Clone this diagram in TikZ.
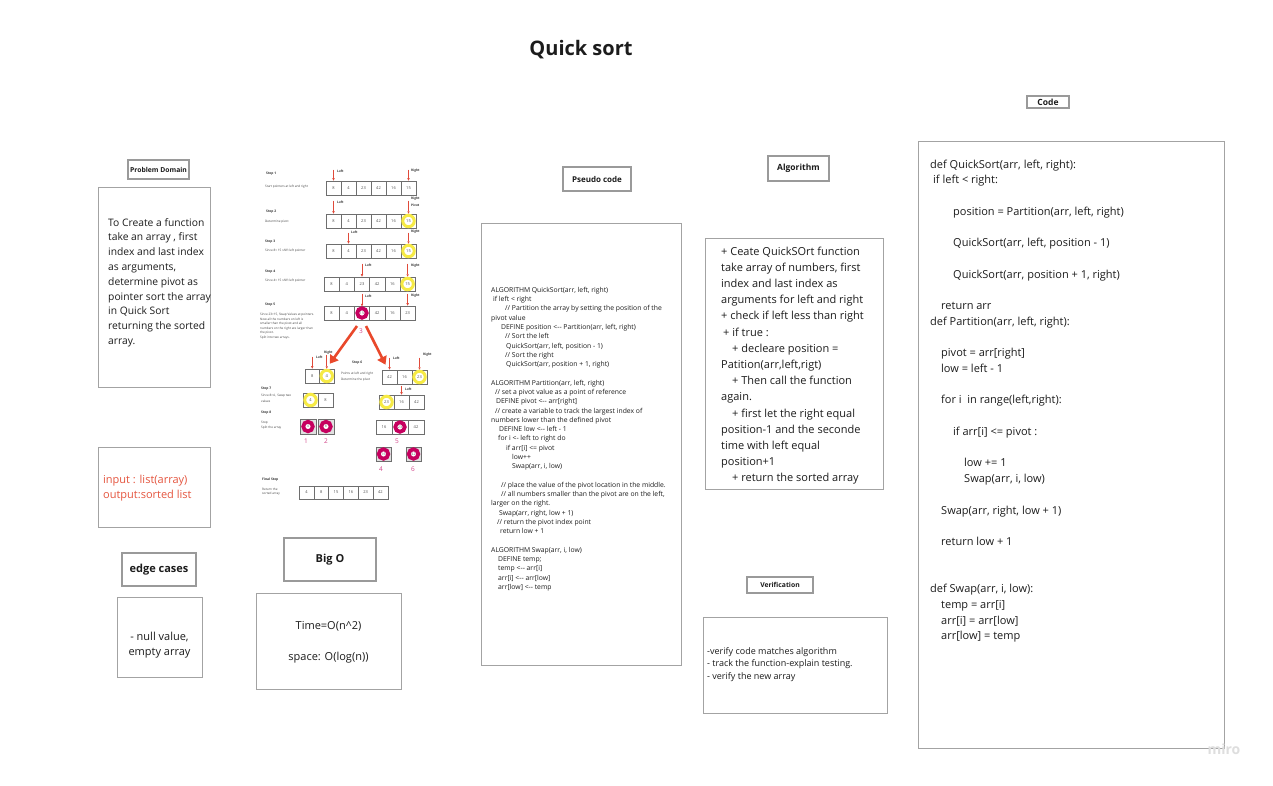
\documentclass[tikz,border=0pt]{standalone}
\usepackage{fontspec}
\setmainfont{Open Sans}
\usetikzlibrary{arrows.meta}
\definecolor{boxgray}{HTML}{A3A3A3}
\definecolor{lblgray}{HTML}{9A9A9A}
\definecolor{txt}{HTML}{1C1C1C}
\definecolor{ioRed}{HTML}{E5553F}
\definecolor{ptrRed}{HTML}{E04A3A}
\definecolor{bigRed}{HTML}{E9482B}
\definecolor{ylw}{HTML}{F6EA45}
\definecolor{mag}{HTML}{C6005F}
\definecolor{magtxt}{HTML}{D2468A}
\definecolor{cellgray}{HTML}{6E6E6E}
\definecolor{miroGray}{HTML}{DEDEDE}
\newcounter{qsln}
\def\qsStart#1#2#3#4#5{\setcounter{qsln}{0}\def\qsX{#1}\def\qsY{#2}\def\qsS{#3}\def\qsN{#4}\def\qsF{#5}}
\def\qsLine#1#2{\stepcounter{qsln}\node[anchor=base west, inner sep=0, font=\qsF, text=txt] (\qsN\arabic{qsln}) at ({\qsX+#1},{\qsY+(\arabic{qsln}-1)*\qsS}) {#2};}
\def\qsSkip{\stepcounter{qsln}}
\def\qsBox#1#2#3#4#5#6#7{\node[#2, minimum width={#5-#3}, minimum height={#6-#4}] (#1) at ({(#3+#5)/2},{(#4+#6)/2}) {#7};}
\def\qsCells#1#2#3#4#5#6{\foreach \v [count=\i] in {#6} {\node[cell, minimum width=#4pt, minimum height=#5pt] (#1-\i) at ({#2+(\i-0.5)*#4},{#3+#5/2}) {\v};}}
\begin{document}
\begin{tikzpicture}[x=1pt,y=-1pt,
  box/.style={draw=boxgray, line width=0.9pt, inner sep=0},
  lbl/.style={draw=lblgray, line width=1.3pt, inner sep=0, text=txt},
  cell/.style={draw=cellgray, line width=0.6pt, inner sep=0, font=\fontsize{4}{4}\selectfont, text=black!70},
  yring/.style={circle, draw=ylw, line width=3pt, fill=white, minimum size=11.5pt, inner sep=0, font=\fontsize{4}{4}\selectfont, text=black!70},
  mring/.style={circle, draw=mag, line width=3.8pt, fill=white, minimum size=9.5pt, inner sep=0, font=\fontsize{3.6}{4}\selectfont, text=black!60},
  ptr/.style={draw=ptrRed, line width=0.55pt, -{Triangle[length=2.5pt,width=2.2pt]}},
  plbl/.style={font=\bfseries\fontsize{3.2}{3.5}\selectfont, inner sep=0, anchor=west, text=black!80},
  stp/.style={font=\bfseries\fontsize{3.3}{4}\selectfont, inner sep=0, anchor=west, text=black!80},
  stxt/.style={font=\fontsize{3.1}{4.6}\selectfont, inner sep=0, anchor=west, text=black!75},
  mnum/.style={text=magtxt, font=\fontsize{6.5}{7}\selectfont, inner sep=0},
  bigarr/.style={draw=bigRed, line width=2.6pt, -{Triangle[length=8pt,width=10pt]}}
]
\useasboundingbox (0,0) rectangle (1273,785);
\fill[white] (0,0) rectangle (1273,785);

\node[font=\bfseries\fontsize{20}{24}\selectfont, text=txt] (title) at (581,50) {Quick sort};

% ---------- boxes ----------
\qsBox{pdLbl}{lbl, font=\bfseries\fontsize{6.8}{8}\selectfont}{128}{160}{189}{179}{Problem Domain}
\qsBox{pdBox}{box}{98}{187}{210}{387}{}
\qsBox{ioBox}{box}{98}{447}{210}{527}{}
\qsBox{ecLbl}{lbl, font=\bfseries\fontsize{11}{13}\selectfont}{122}{553}{196}{586}{edge cases}
\qsBox{ecBox}{box}{117}{597}{202}{677}{}
\qsBox{boLbl}{lbl, font=\bfseries\fontsize{11}{13}\selectfont}{284}{538}{376}{581}{Big O}
\qsBox{boBox}{box}{256}{593}{401}{689}{}
\qsBox{psLbl}{lbl, font=\bfseries\fontsize{8}{9}\selectfont}{563}{167}{631}{191}{Pseudo code}
\qsBox{psBox}{box}{481}{223}{681}{665}{}
\qsBox{alLbl}{lbl, font=\bfseries\fontsize{8.5}{10}\selectfont}{768}{156}{829}{181}{Algorithm}
\qsBox{alBox}{box}{705}{238}{883}{489}{}
\qsBox{vfLbl}{lbl, font=\bfseries\fontsize{6.8}{8}\selectfont}{747}{577}{813}{593}{Verification}
\qsBox{vfBox}{box}{703}{617}{887}{713}{}
\qsBox{cdLbl}{lbl, font=\bfseries\fontsize{8.5}{10}\selectfont}{1027}{96}{1069}{108}{Code}
\qsBox{cdBox}{box}{918}{141}{1224}{748}{}

% ---------- problem domain ----------
\qsStart{108}{226}{14.8}{pd}{\fontsize{10.3}{13}\selectfont}
\qsLine{0}{To Create a function}
\qsLine{0}{take an array , first}
\qsLine{0}{index and last index}
\qsLine{0}{as arguments,}
\qsLine{0}{determine pivot as}
\qsLine{0}{pointer sort the array}
\qsLine{0}{in Quick Sort}
\qsLine{0}{returning the sorted}
\qsLine{0}{array.}

% ---------- input / output ----------
\node[anchor=base west, inner sep=0, font=\fontsize{11}{13}\selectfont, text=ioRed] (io1) at (103,483) {input : list(array)};
\node[anchor=base west, inner sep=0, font=\fontsize{11}{13}\selectfont, text=ioRed] (io2) at (103,498) {output:sorted list};

% ---------- edge cases ----------
\node[anchor=base, inner sep=0, font=\fontsize{11}{13}\selectfont, text=txt] (ec1) at (159.5,640) {- null value,};
\node[anchor=base, inner sep=0, font=\fontsize{11}{13}\selectfont, text=txt] (ec2) at (159.5,655) {empty array};

% ---------- big O ----------
\node[anchor=base, inner sep=0, font=\fontsize{11}{13}\selectfont, text=txt] (bo1) at (328.5,629) {Time=O(n\textasciicircum 2)};
\node[anchor=base, inner sep=0, font=\fontsize{11}{13}\selectfont, text=txt] (bo2) at (328.5,660) {space: O(log(n))};

% ---------- pseudo code ----------
\qsStart{491}{292.4}{9.28}{ps}{\fontsize{6.8}{8}\selectfont}
\qsLine{0}{ALGORITHM QuickSort(arr, left, right)}
\qsLine{2}{if left < right}
\qsLine{14}{// Partition the array by setting the position of the}
\qsLine{0}{pivot value}
\qsLine{10}{DEFINE position <-{}- Partition(arr, left, right)}
\qsLine{14}{// Sort the left}
\qsLine{15}{QuickSort(arr, left, position - 1)}
\qsLine{14}{// Sort the right}
\qsLine{15}{QuickSort(arr, position + 1, right)}
\qsSkip
\qsLine{0}{ALGORITHM Partition(arr, left, right)}
\qsLine{4}{// set a pivot value as a point of reference}
\qsLine{5}{DEFINE pivot <-{}- arr[right]}
\qsLine{4}{// create a variable to track the largest index of}
\qsLine{0}{numbers lower than the defined pivot}
\qsLine{8}{DEFINE low <-{}- left - 1}
\qsLine{7}{for i <- left to right do}
\qsLine{15}{if arr[i] <= pivot}
\qsLine{21}{low++}
\qsLine{21}{Swap(arr, i, low)}
\qsSkip
\qsLine{10}{// place the value of the pivot location in the middle.}
\qsLine{10}{// all numbers smaller than the pivot are on the left,}
\qsLine{0}{larger on the right.}
\qsLine{8}{Swap(arr, right, low + 1)}
\qsLine{6}{// return the pivot index point}
\qsLine{9}{return low + 1}
\qsSkip
\qsLine{0}{ALGORITHM Swap(arr, i, low)}
\qsLine{7}{DEFINE temp;}
\qsLine{7}{temp <-{}- arr[i]}
\qsLine{7}{arr[i] <-{}- arr[low]}
\qsLine{7}{arr[low] <-{}- temp}

% ---------- algorithm ----------
\qsStart{721}{255}{16.2}{al}{\fontsize{11}{13}\selectfont}
\qsLine{0}{+ Ceate QuickSOrt function}
\qsLine{0}{take array of numbers, first}
\qsLine{0}{index and last index as}
\qsLine{0}{arguments for left and right}
\qsLine{0}{+ check if left less than right}
\qsLine{2}{+ if true :}
\qsLine{11}{+ decleare position =}
\qsLine{0}{Patition(arr,left,rigt)}
\qsLine{11}{+ Then call the function}
\qsLine{0}{again.}
\qsLine{11}{+ first let the right equal}
\qsLine{0}{position-1 and the seconde}
\qsLine{0}{time with left equal}
\qsLine{0}{position+1}
\qsLine{11}{+ return the sorted array}

% ---------- verification ----------
\qsStart{707}{654}{12.5}{vf}{\fontsize{9}{11}\selectfont}
\qsLine{0}{-verify code matches algorithm}
\qsLine{0}{- track the function-explain testing.}
\qsLine{0}{- verify the new array}

% ---------- code ----------
\qsStart{930}{168}{15.73}{cd}{\fontsize{11}{13}\selectfont}
\qsLine{0}{def QuickSort(arr, left, right):}
\qsLine{3}{if left < right:}
\qsSkip
\qsLine{23}{position = Partition(arr, left, right)}
\qsSkip
\qsLine{23}{QuickSort(arr, left, position - 1)}
\qsSkip
\qsLine{23}{QuickSort(arr, position + 1, right)}
\qsSkip
\qsLine{11}{return arr}
\qsLine{0}{def Partition(arr, left, right):}
\qsSkip
\qsLine{11}{pivot = arr[right]}
\qsLine{11}{low = left - 1}
\qsSkip
\qsLine{11}{for i\ \ in range(left,right):}
\qsSkip
\qsLine{23}{if arr[i] <= pivot :}
\qsSkip
\qsLine{34}{low += 1}
\qsLine{34}{Swap(arr, i, low)}
\qsSkip
\qsLine{11}{Swap(arr, right, low + 1)}
\qsSkip
\qsLine{11}{return low + 1}
\qsSkip
\qsSkip
\qsLine{0}{def Swap(arr, i, low):}
\qsLine{11}{temp = arr[i]}
\qsLine{11}{arr[i] = arr[low]}
\qsLine{11}{arr[low] = temp}

% ---------- array illustration ----------
% step texts
\node[stp] (s1) at (266,174) {Step 1};
\node[stxt] (s1t) at (265,187) {Start pointers at left and right};
\node[stp] (s2) at (266,212) {Step 2};
\node[stxt] (s2t) at (265,222) {Determine pivot};
\node[stp] (s3) at (265,242) {Step 3};
\node[stxt] (s3t) at (265,251) {Since 8< 15 shift left pointer};
\node[stp] (s4) at (265,272) {Step 4};
\node[stxt] (s4t) at (265,281) {Since 4< 15 shift left pointer};
\node[stp] (s5) at (265,305) {Step 5};
\node[stxt, anchor=north west, align=left] (s5t) at (260,313) {Since 23>15, Swap Values at pointers.\\Now all the numbers on left is\\smaller than the pivot and all\\numbers on the right are larger than\\the pivot.\\Split into two arrays.};
\node[stp] (s6) at (352,363) {Step 6};
\node[stxt] (s6a) at (341,374) {Points at left and right};
\node[stxt] (s6b) at (341,380) {Determine the pivot};
\node[stp] (s7) at (261,389) {Step 7};
\node[stxt] (s7a) at (261,396) {Since 8>4 , Swap two};
\node[stxt] (s7b) at (261,401) {values};
\node[stp] (s8) at (261,413) {Step 8};
\node[stxt] (s8a) at (261,423) {Stop};
\node[stxt] (s8b) at (261,428) {Split the array};
\node[stp] (sf) at (262,480) {Final Step};
\node[stxt] (sfa) at (262,489) {Return the};
\node[stxt] (sfb) at (262,494) {sorted array};

% rows
\qsCells{ra}{326}{181}{15}{14}{8,4,23,42,16,15}
\qsCells{rb}{326}{214}{15}{14}{8,4,23,42,16,15}
\node[yring] (rb-6-y) at (rb-6.center) {15};
\qsCells{rc}{326}{244}{15}{14}{8,4,23,42,16,15}
\node[yring] (rc-6-y) at (rc-6.center) {15};
\qsCells{rd}{324}{277}{15.2}{14}{8,4,23,42,16,15}
\node[yring] (rd-6-y) at (rd-6.center) {15};
\qsCells{re}{324}{306}{15.2}{14}{8,4,15,42,16,23}
\node[mring] (re-3-m) at (re-3.center) {15};

\qsCells{ls}{305}{369}{14.5}{14}{8,4}
\node[yring] (ls-2-y) at (ls-2.center) {4};
\qsCells{rs}{382}{370}{15}{14}{42,16,23}
\node[yring] (rs-3-y) at (rs-3.center) {23};

\qsCells{sl}{303}{393}{15}{14}{4,8}
\node[yring] (sl-1-y) at (sl-1.center) {4};
\qsCells{sr}{379}{395}{15}{14}{23,16,42}
\node[yring] (sr-1-y) at (sr-1.center) {23};

\node[cell, fill=black!12, minimum width=16pt, minimum height=15pt] (ea) at (308,426.5) {};
\node[mring] (ea-m) at (ea.center) {4};
\node[cell, fill=black!12, minimum width=16pt, minimum height=15pt] (eb) at (326,426.5) {};
\node[mring] (eb-m) at (eb.center) {8};
\qsCells{er}{376}{420}{16}{14}{16,23,42}
\node[mring] (er-2-m) at (er-2.center) {23};
\node[cell, fill=black!12, minimum width=15pt, minimum height=14pt] (ec) at (383.5,454) {};
\node[mring] (ec-m) at (ec.center) {16};
\node[cell, fill=black!12, minimum width=15pt, minimum height=14pt] (ed) at (413.5,454) {};
\node[mring] (ed-m) at (ed.center) {42};

\qsCells{fn}{299}{486}{14.8}{13}{4,8,15,16,23,42}

% magenta numbers
\node[mnum] (n3) at (361,331) {3};
\node[mnum] (n1) at (306,441) {1};
\node[mnum] (n2) at (326,441) {2};
\node[mnum] (n5) at (397,441) {5};
\node[mnum] (n4) at (381,469) {4};
\node[mnum] (n6) at (413,469) {6};

% pointer arrows
\draw[ptr] ([yshift=11pt]ra-1.north) -- (ra-1.north);
\node[plbl] (ra-L) at (337,171) {Left};
\draw[ptr] ([yshift=11pt]ra-6.north) -- (ra-6.north);
\node[plbl] (ra-R) at (411,171) {Right};

\draw[ptr] ([yshift=13pt]rb-1.north) -- (rb-1.north);
\node[plbl] (rb-L) at (337,202) {Left};
\draw[ptr] ([yshift=13pt]rb-6.north) -- (rb-6-y.north);
\node[plbl] (rb-R) at (411,199) {Right};
\node[plbl] (rb-P) at (411,205) {Pivot};

\draw[ptr] ([yshift=11pt]rc-2.north) -- (rc-2.north);
\node[plbl] (rc-L) at (351,232) {Left};
\draw[ptr] ([yshift=11pt]rc-6.north) -- (rc-6-y.north);
\node[plbl] (rc-R) at (411,232) {Right};

\draw[ptr] ([yshift=13pt]rd-3.north) -- (rd-3.north);
\node[plbl] (rd-L) at (365,265) {Left};
\draw[ptr] ([yshift=13pt]rd-6.north) -- (rd-6-y.north);
\node[plbl] (rd-R) at (411,266) {Right};

\draw[ptr] ([yshift=12pt]re-3.north) -- (re-3-m.north);
\node[plbl] (re-L) at (365,296) {Left};
\draw[ptr] ([yshift=12pt]re-6.north) -- (re-6.north);
\node[plbl] (re-R) at (411,296) {Right};

\draw[ptr] ([yshift=12pt]ls-1.north) -- (ls-1.north);
\node[plbl] (ls-L) at (316,357) {Left};
\draw[ptr] ([yshift=14pt]ls-2.north) -- (ls-2-y.north);
\node[plbl] (ls-R) at (324,353) {Right};

\draw[ptr] ([yshift=12pt]rs-1.north) -- (rs-1.north);
\node[plbl] (rs-L) at (393,358) {Left};
\draw[ptr] ([yshift=12pt]rs-3.north) -- (rs-3-y.north);
\node[plbl] (rs-R) at (423,355) {Right};

\draw[ptr] ([yshift=9pt]sr-2.north) -- (sr-2.north);
\node[plbl] (sr-L) at (405,389) {Left};

% split arrows
\draw[bigarr] ([xshift=-5pt,yshift=-13pt]re-3-m.center) -- ([xshift=3pt,yshift=5pt]ls-2-y.north);
\draw[bigarr] ([xshift=4pt,yshift=-13pt]re-3-m.center) -- ([xshift=-4pt,yshift=5pt]rs-1.north);

% watermark
\node[text=miroGray, font=\bfseries\fontsize{14}{16}\selectfont] (miro) at (1224,749) {miro};
\end{tikzpicture}
\end{document}
